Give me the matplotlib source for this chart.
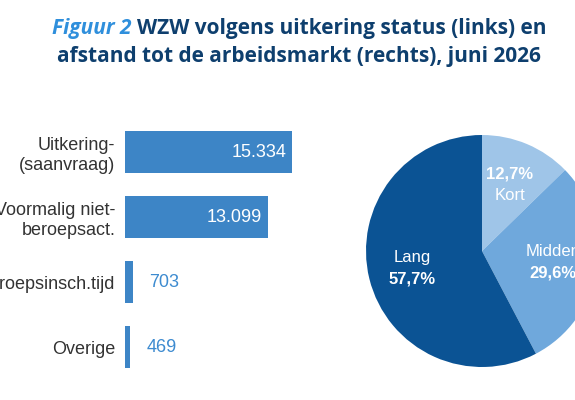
import numpy as np
import matplotlib.pyplot as plt

# left: WZW by uitkering status
categories = ['Uitkering-\n(saanvraag)', 'Voormalig niet-\nberoepsact.', 'Beroepsinsch.tijd', 'Overige']
values = [15334, 13099, 703, 469]
value_labels = ['15.334', '13.099', '703', '469']

# right: afstand tot de arbeidsmarkt
pie_names = ['Kort', 'Midden', 'Lang']
pie_shares = [12.7, 29.6, 57.7]
pie_pct = ['12,7%', '29,6%', '57,7%']
pct_on_top = [True, False, False]

bar_color = '#3d85c6'
pie_colors = ['#9fc5e8', '#6fa8dc', '#0b5394']
title_blue = '#2f8fdc'
title_dark = '#0e3f6e'

plt.rcParams['font.family'] = ['Liberation Sans', 'DejaVu Sans']

fig = plt.figure(figsize=(5.75, 4), dpi=100)

# title, two lines; first line is two pieces side by side
tfont = dict(fontsize=15, fontweight='bold', family='Open Sans', va='center')
t1 = fig.text(0, 0.928, 'Figuur 2 ', style='italic', color=title_blue, ha='left', **tfont)
t2 = fig.text(0, 0.928, 'WZW volgens uitkering status (links) en', color=title_dark,
              ha='left', **tfont)
r = fig.canvas.get_renderer()
w1 = t1.get_window_extent(r).width / (575)
w2 = t2.get_window_extent(r).width / (575)
x0 = 0.52 - (w1 + w2) / 2
t1.set_x(x0)
t2.set_x(x0 + w1)
fig.text(0.52, 0.858, 'afstand tot de arbeidsmarkt (rechts), juni 2026',
         color=title_dark, ha='center', **tfont)

# bars
ax = fig.add_axes([125 / 575, 0.051, 174.3 / 575, 0.65])
y = np.arange(len(values))
ax.barh(y, values, height=0.65, color=bar_color)
ax.set_xlim(0, 16000)
ax.set_ylim(len(values) - 0.5, -0.5)
ax.set_yticks(y)
ax.set_yticklabels(categories, fontsize=13, color='#333333', linespacing=1.2)
ax.tick_params(axis='y', length=0, pad=7)
ax.set_xticks([])
for s in ax.spines.values():
    s.set_visible(False)
for yi, v, lab in zip(y, values, value_labels):
    if v > 5000:
        ax.text(v - 500, yi, lab, ha='right', va='center', fontsize=13, color='white')
    else:
        ax.text(v + 1550, yi, lab, ha='left', va='center', fontsize=13, color='#3d8bd0')

# pie
pax = fig.add_axes([366 / 575, 33 / 400, 232 / 575, 232 / 400])
wedges, _ = pax.pie(pie_shares, colors=pie_colors, startangle=90, counterclock=False,
                    radius=1, wedgeprops=dict(linewidth=0))
pax.set_xlim(-1, 1)
pax.set_ylim(-1, 1)
for w, name, pct, top in zip(wedges, pie_names, pie_pct, pct_on_top):
    ang = np.deg2rad((w.theta1 + w.theta2) / 2)
    rr = 0.62
    cx, cy = rr * np.cos(ang), rr * np.sin(ang)
    first, second = (pct, name) if top else (name, pct)
    pax.annotate(first, (cx, cy), xytext=(0, 8), textcoords='offset points',
                 ha='center', va='center', color='white', fontsize=12,
                 fontweight='bold' if top else 'normal')
    pax.annotate(second, (cx, cy), xytext=(0, -8), textcoords='offset points',
                 ha='center', va='center', color='white', fontsize=12,
                 fontweight='normal' if top else 'bold')

fig.savefig('out.png', dpi=100)
